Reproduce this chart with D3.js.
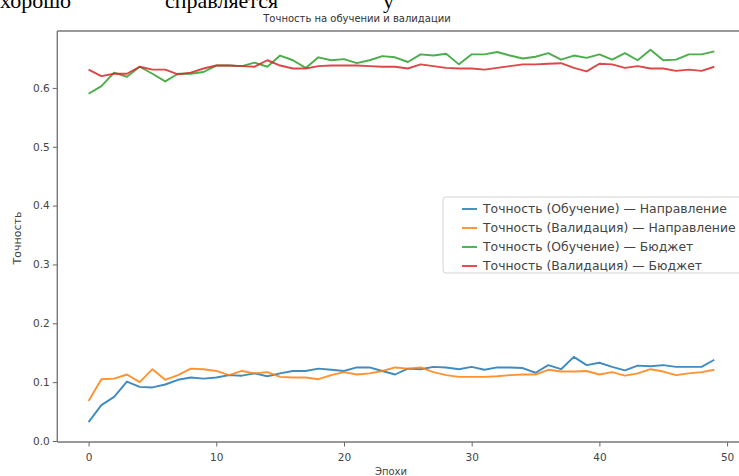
<!DOCTYPE html>
<html>
<head>
<meta charset="utf-8">
<script src="https://cdn.jsdelivr.net/npm/d3@7/dist/d3.min.js"></script>
<style>
  html, body { margin: 0; padding: 0; background: #ffffff; overflow: hidden; }
  svg { display: block; }
</style>
</head>
<body>
<svg id="chart" width="739" height="476"></svg>
<script>
// Epoch indices and per-epoch accuracy for each model head
const epochs = d3.range(50);

const trainDirection = [0.032, 0.061, 0.075, 0.101, 0.092, 0.091, 0.096, 0.104, 0.108, 0.106,
  0.108, 0.112, 0.111, 0.115, 0.110, 0.115, 0.119, 0.119, 0.123, 0.121,
  0.119, 0.125, 0.125, 0.119, 0.113, 0.123, 0.122, 0.126, 0.125, 0.122,
  0.126, 0.121, 0.125, 0.125, 0.124, 0.116, 0.129, 0.122, 0.143, 0.129,
  0.133, 0.126, 0.120, 0.128, 0.127, 0.129, 0.126, 0.126, 0.126, 0.138];

const valDirection = [0.068, 0.105, 0.106, 0.113, 0.100, 0.122, 0.104, 0.112, 0.123, 0.122,
  0.119, 0.112, 0.119, 0.115, 0.117, 0.109, 0.108, 0.108, 0.105, 0.112,
  0.117, 0.113, 0.115, 0.119, 0.125, 0.123, 0.125, 0.117, 0.112, 0.109,
  0.109, 0.109, 0.110, 0.112, 0.113, 0.113, 0.121, 0.118, 0.118, 0.119,
  0.113, 0.117, 0.111, 0.115, 0.122, 0.118, 0.112, 0.115, 0.117, 0.121];

const trainBudget = [0.590, 0.603, 0.626, 0.619, 0.636, 0.624, 0.611, 0.624, 0.624, 0.627,
  0.638, 0.638, 0.637, 0.643, 0.636, 0.655, 0.647, 0.634, 0.652, 0.647,
  0.649, 0.642, 0.647, 0.654, 0.652, 0.644, 0.657, 0.655, 0.658, 0.640,
  0.657, 0.657, 0.661, 0.655, 0.650, 0.653, 0.659, 0.648, 0.655, 0.651,
  0.657, 0.648, 0.659, 0.647, 0.665, 0.647, 0.648, 0.657, 0.657, 0.662];

const valBudget = [0.631, 0.620, 0.624, 0.624, 0.636, 0.631, 0.631, 0.623, 0.626, 0.633,
  0.638, 0.638, 0.637, 0.636, 0.647, 0.638, 0.633, 0.633, 0.637, 0.638,
  0.638, 0.638, 0.637, 0.636, 0.636, 0.633, 0.640, 0.637, 0.634, 0.633,
  0.633, 0.631, 0.634, 0.637, 0.640, 0.640, 0.641, 0.642, 0.634, 0.628,
  0.641, 0.640, 0.634, 0.637, 0.633, 0.633, 0.629, 0.631, 0.629, 0.636];

const seriesNames = [
  "Точность (Обучение) — Направление",
  "Точность (Валидация) — Направление",
  "Точность (Обучение) — Бюджет",
  "Точность (Валидация) — Бюджет"
];
const seriesValues = [trainDirection, valDirection, trainBudget, valBudget];
const seriesColors = ["#1f77b4", "#ff7f0e", "#2ca02c", "#d62728"];

const xTicks = [0, 10, 20, 30, 40, 50];
const yTicks = [0.0, 0.1, 0.2, 0.3, 0.4, 0.5, 0.6];

const titleText = "Точность на обучении и валидации";
const xLabel = "Эпохи";
const yLabel = "Точность";
const pageWords = ["хорошо", "справляется", "у"];

const svg = d3.select("#chart");

// Line of surrounding document text, cut by the top edge
const pageX = [0, 165, 383];
svg.selectAll("text.page")
  .data(pageWords)
  .join("text")
  .attr("class", "page")
  .attr("x", (d, i) => pageX[i])
  .attr("y", 8)
  .attr("font-family", "'Liberation Serif', 'DejaVu Serif', serif")
  .attr("font-size", 22)
  .attr("fill", "#000")
  .text(d => d);

// Plot area
const plot = { left: 57.3, right: 745.6, top: 31, bottom: 442 };

const x = d3.scaleLinear().domain([-2.45, 51.45]).range([plot.left, plot.right]);
const y = d3.scaleLinear().domain([-0.0017, 0.6967]).range([plot.bottom, plot.top]);

const axisColor = "#666";
const tickFont = "'DejaVu Sans', sans-serif";

// X axis
const xAxis = svg.append("g")
  .attr("transform", `translate(0,${plot.bottom})`)
  .call(d3.axisBottom(x).tickValues(xTicks).tickFormat(d3.format("d")).tickSizeOuter(0).tickSize(4.5).tickPadding(7));
xAxis.select(".domain").remove();
xAxis.selectAll("line").attr("stroke", axisColor).attr("stroke-width", 1);
xAxis.selectAll("text").attr("fill", "#444").attr("font-family", tickFont).attr("font-size", 10.5);

// Y axis
const yAxis = svg.append("g")
  .attr("transform", `translate(${plot.left},0)`)
  .call(d3.axisLeft(y).tickValues(yTicks).tickFormat(d3.format(".1f")).tickSizeOuter(0).tickSize(4.5).tickPadding(3));
yAxis.select(".domain").remove();
yAxis.selectAll("line").attr("stroke", axisColor).attr("stroke-width", 1);
yAxis.selectAll("text").attr("fill", "#444").attr("font-family", tickFont).attr("font-size", 10.5);

// Spines (right spine lies beyond the visible area)
const spines = svg.append("g")
  .attr("fill", "none")
  .attr("stroke", "#777")
  .attr("stroke-width", 1.4);
spines.append("line").attr("x1", plot.left).attr("x2", plot.left).attr("y1", plot.top).attr("y2", plot.bottom);
spines.append("line").attr("x1", plot.left).attr("x2", plot.right).attr("y1", plot.bottom).attr("y2", plot.bottom);
spines.append("line").attr("x1", plot.left).attr("x2", plot.right).attr("y1", plot.top).attr("y2", plot.top);

// Series lines
const line = d3.line()
  .x((d, i) => x(epochs[i]))
  .y(d => y(d));

svg.append("g")
  .selectAll("path")
  .data(seriesValues)
  .join("path")
  .attr("fill", "none")
  .attr("stroke", (d, i) => seriesColors[i])
  .attr("stroke-opacity", 0.85)
  .attr("stroke-width", 1.9)
  .attr("stroke-linejoin", "round")
  .attr("d", line);

// Title and axis labels
svg.append("text")
  .attr("x", 357)
  .attr("y", 22)
  .attr("text-anchor", "middle")
  .attr("font-family", tickFont)
  .attr("font-size", 10)
  .attr("fill", "#333")
  .text(titleText);

svg.append("text")
  .attr("x", 391)
  .attr("y", 475)
  .attr("text-anchor", "middle")
  .attr("font-family", tickFont)
  .attr("font-size", 10)
  .attr("fill", "#444")
  .text(xLabel);

svg.append("text")
  .attr("transform", "translate(21,238) rotate(-90)")
  .attr("text-anchor", "middle")
  .attr("font-family", tickFont)
  .attr("font-size", 11)
  .attr("fill", "#444")
  .text(yLabel);

// Legend
const legend = svg.append("g");
legend.append("rect")
  .attr("x", 443).attr("y", 197)
  .attr("width", 310).attr("height", 76)
  .attr("rx", 3)
  .attr("fill", "#fff").attr("fill-opacity", 0.85)
  .attr("stroke", "#d4d4d4").attr("stroke-width", 1);

const rows = legend.selectAll("g.row")
  .data(seriesNames)
  .join("g")
  .attr("class", "row")
  .attr("transform", (d, i) => `translate(0,${209 + i * 19})`);

rows.append("line")
  .attr("x1", 462).attr("x2", 477)
  .attr("y1", 0).attr("y2", 0)
  .attr("stroke", (d, i) => seriesColors[i])
  .attr("stroke-opacity", 0.85)
  .attr("stroke-width", 1.9);

rows.append("text")
  .attr("x", 483)
  .attr("y", 0)
  .attr("dy", "0.35em")
  .attr("font-family", tickFont)
  .attr("font-size", 12.4)
  .attr("fill", "#444")
  .text(d => d);
</script>
</body>
</html>
